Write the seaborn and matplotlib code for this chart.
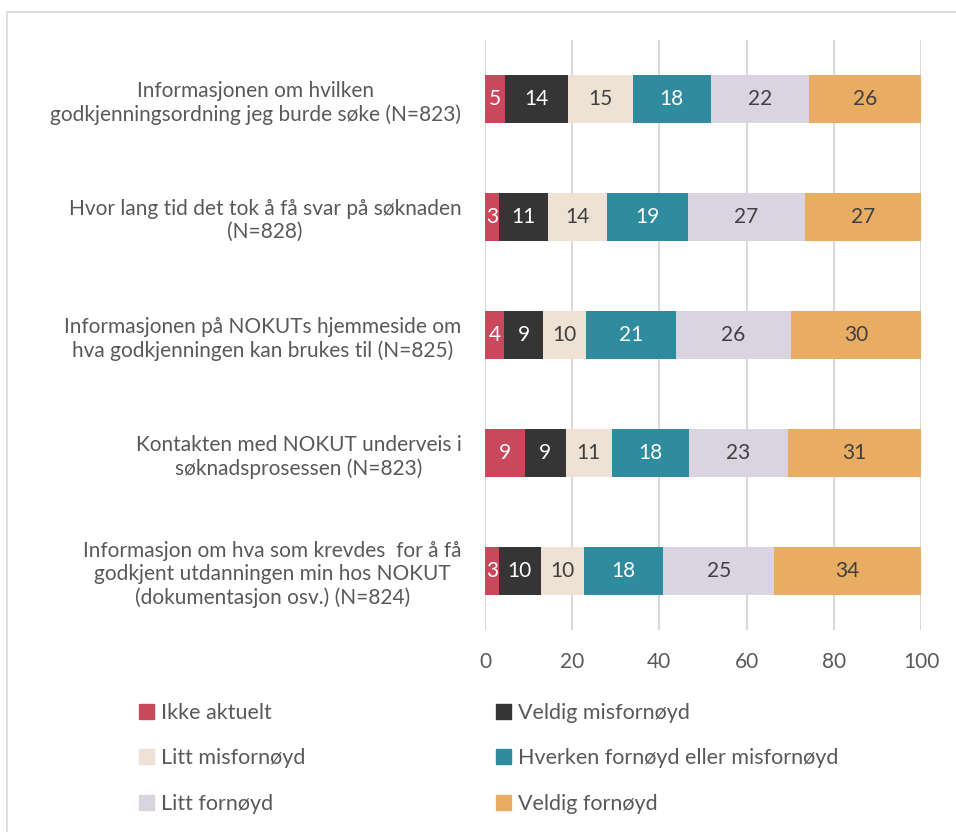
import matplotlib
matplotlib.use("Agg")
import matplotlib.pyplot as plt
import matplotlib.patches as mpatches
import seaborn as sns
import numpy as np
import pandas as pd

# questions (top to bottom)
questions = [
    "Informasjonen om hvilken\ngodkjenningsordning jeg burde søke (N=823)",
    "Hvor lang tid det tok å få svar på søknaden\n(N=828)",
    "Informasjonen på NOKUTs hjemmeside om\nhva godkjenningen kan brukes til (N=825)",
    "Kontakten med NOKUT underveis i\nsøknadsprosessen (N=823)",
    "Informasjon om hva som krevdes  for å få\ngodkjent utdanningen min hos NOKUT\n(dokumentasjon osv.) (N=824)",
]
levels = ["Ikke aktuelt", "Veldig misfornøyd", "Litt misfornøyd",
          "Hverken fornøyd eller misfornøyd", "Litt fornøyd", "Veldig fornøyd"]

# percentages per level, one value per question
ikke_aktuelt = [4.7, 3.2, 4.4, 9.2, 3.2]
veldig_mis = [14.3, 11.2, 8.9, 9.3, 9.6]
litt_mis = [14.9, 13.6, 9.9, 10.6, 9.8]
hverken = [17.9, 18.6, 20.6, 17.6, 18.3]
litt_forn = [22.4, 26.8, 26.4, 22.7, 25.4]
veldig_forn = [25.8, 26.6, 29.8, 30.6, 33.7]

colors = ["#C9485B", "#353535", "#EDE2D3", "#2E8C9E", "#DAD3E0", "#E8AD62"]
label_colors = ["white", "white", "#404040", "white", "#404040", "#404040"]
text_color = "#595959"

series = [ikke_aktuelt, veldig_mis, litt_mis, hverken, litt_forn, veldig_forn]
values = np.array(series)            # shape (levels, questions)
cum = values.cumsum(axis=0)

sns.set_style("white")
plt.rcParams["font.family"] = ["Lato", "DejaVu Sans"]

fig = plt.figure(figsize=(9.56, 8.32), dpi=100)
W, H = 956, 832
ax = fig.add_axes([485 / W, (H - 630) / H, 436 / W, 590 / H])

# stacked bars: draw cumulative totals from the last level backwards
for i in range(len(levels) - 1, -1, -1):
    df = pd.DataFrame({"question": questions, "value": cum[i]})
    sns.barplot(data=df, x="value", y="question", orient="h", color=colors[i],
                width=0.41, saturation=1, linewidth=0, ax=ax, zorder=3)

# segment labels
for i in range(len(levels)):
    for j in range(len(questions)):
        left = cum[i, j] - values[i, j]
        ax.text(left + values[i, j] / 2, j, f"{values[i, j]:.0f}",
                ha="center", va="center", fontsize=15,
                color=label_colors[i], zorder=4)

ax.set_xlim(0, 100)
ax.set_xticks(np.arange(0, 101, 20))
ax.set_xlabel("")
ax.set_ylabel("")
ax.grid(axis="x", color="#D9D9D9", linewidth=1.5, zorder=0)
ax.grid(axis="y", visible=False)
for s in ax.spines.values():
    s.set_visible(False)
ax.tick_params(axis="x", length=0, pad=16, labelsize=15, labelcolor=text_color)
ax.tick_params(axis="y", length=0, pad=17, labelsize=15, labelcolor=text_color)
for t in ax.get_yticklabels():
    t.set_multialignment("center")
    t.set_linespacing(1.2)

# legend in two columns, filled row-wise
handles = [mpatches.Patch(color=c, label=l) for c, l in zip(colors, levels)]
leg_kw = dict(frameon=False, fontsize=15.5, labelcolor=text_color,
              handlelength=0.7, handleheight=0.7, handletextpad=0.3,
              labelspacing=1.18, borderaxespad=0, borderpad=0,
              loc="upper left")
fig.legend(handles=handles[0::2], bbox_to_anchor=(139 / W, 1 - 703 / H), **leg_kw)
fig.legend(handles=handles[1::2], bbox_to_anchor=(496 / W, 1 - 703 / H), **leg_kw)

# outer frame
fig.patches.append(mpatches.Rectangle((7 / W, -0.01), 1.0, 1 - 12 / H + 0.01,
                                      transform=fig.transFigure, fill=False,
                                      edgecolor="#D9D9D9", linewidth=1.2))

fig.savefig("out.png", dpi=100)
